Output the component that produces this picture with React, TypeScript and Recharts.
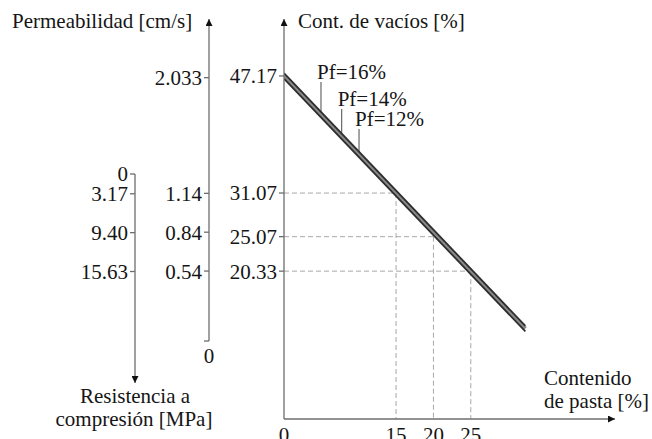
import React from 'react';
import { ComposedChart, Line, XAxis, YAxis, ReferenceLine } from 'recharts';

const FONT = 'Liberation Serif, DejaVu Serif, serif';
const TEXT = '#151515';
const AXIS = '#6e6e6e';
const FS = 21;

// Contenido de pasta [%] (x axis)
const pasteTickLabels = ['0', '15', '20', '25'];
// Cont. de vacíos [%] (main y axis)
const voidTickLabels = ['20.33', '25.07', '31.07', '47.17'];
// Permeabilidad [cm/s]
const permTickLabels = ['0', '0.54', '0.84', '1.14', '2.033'];
// Resistencia a compresión [MPa]
const strengthTickLabels = ['0', '3.17', '9.40', '15.63'];

// The three Pf lines (endpoints)
const pasteContent = [0, 32.3];
const pf16 = [47.55, 12.8];
const pf14 = [47.17, 12.42];
const pf12 = [46.79, 12.04];
const pfNames = ['Pf=16%', 'Pf=14%', 'Pf=12%'];

// Read-off guides
const guidePaste = [15, 20, 25];
const guideVoids = [31.07, 25.07, 20.33];

const toNums = (labels: string[]) => labels.map((l) => parseFloat(l));
const fmt = (labels: string[]) => (v: number) => {
  const f = labels.find((l) => parseFloat(l) === v);
  return f !== undefined ? f : String(v);
};

const tickStyle = { fontFamily: FONT, fontSize: FS, fill: TEXT };
const axisLineUp = { stroke: AXIS, strokeWidth: 1.3, markerStart: 'url(#arrowhead)' };
const axisLineEnd = { stroke: AXIS, strokeWidth: 1.3, markerEnd: 'url(#arrowhead)' };

const PermTick = (props: any) => {
  const { x, y, payload } = props;
  const label = fmt(permTickLabels)(payload.value);
  if (payload.value === 0) {
    return (
      <text x={x + 7} y={y + 22} textAnchor="middle" style={{ fontFamily: FONT }} fontSize={FS} fill={TEXT}>
        {label}
      </text>
    );
  }
  return (
    <text x={x} y={y} dy="0.355em" textAnchor="end" style={{ fontFamily: FONT }} fontSize={FS} fill={TEXT}>
      {label}
    </text>
  );
};

const lineAt = (arr: number[], x: number) =>
  arr[0] + ((arr[1] - arr[0]) * (x - pasteContent[0])) / (pasteContent[1] - pasteContent[0]);

export default function App() {
  const data = pasteContent.map((x, i) => ({ x, pf16: pf16[i], pf14: pf14[i], pf12: pf12[i] }));
  const leaders = [
    { name: pfNames[0], values: pf16, x: 4.95, top: 46.34 },
    { name: pfNames[1], values: pf14, x: 7.72, top: 42.63 },
    { name: pfNames[2], values: pf12, x: 10.04, top: 39.88 },
  ];

  const abs: React.CSSProperties = { position: 'absolute', left: 0, top: 0, fontFamily: FONT };

  return (
    <div style={{ position: 'absolute', left: 0, top: 0, width: 652, height: 439, background: '#fff', fontFamily: FONT }}>
      <svg width={0} height={0} style={{ position: 'absolute' }}>
        <defs>
          <marker
            id="arrowhead"
            viewBox="0 0 10 10"
            refX={10}
            refY={5}
            markerUnits="userSpaceOnUse"
            markerWidth={10}
            markerHeight={7}
            orient="auto-start-reverse"
          >
            <path d="M0,0 L10,5 L0,10 z" fill="#111" />
          </marker>
        </defs>
      </svg>

      {/* Resistencia a compresión axis */}
      <div style={abs}>
        <ComposedChart width={140} height={439} data={data} margin={{ top: 174, right: 0, bottom: 56, left: 0 }}>
          <XAxis dataKey="x" type="number" hide domain={[0, 1]} />
          <YAxis
            yAxisId="s"
            type="number"
            width={135}
            reversed
            domain={[0, 33.5]}
            allowDataOverflow
            ticks={toNums(strengthTickLabels)}
            tickFormatter={fmt(strengthTickLabels)}
            tickSize={5}
            tick={tickStyle}
            tickLine={{ stroke: AXIS, strokeWidth: 1.3 }}
            axisLine={axisLineEnd}
            interval={0}
          />
        </ComposedChart>
      </div>

      {/* Permeabilidad axis */}
      <div style={abs}>
        <ComposedChart width={215} height={439} data={data} margin={{ top: 19, right: 0, bottom: 98, left: 0 }}>
          <XAxis dataKey="x" type="number" hide domain={[0, 1]} />
          <YAxis
            yAxisId="p"
            type="number"
            width={209}
            domain={[0, 2.486]}
            allowDataOverflow
            ticks={toNums(permTickLabels)}
            tickSize={5}
            tick={PermTick}
            tickLine={{ stroke: AXIS, strokeWidth: 1.3 }}
            axisLine={axisLineUp}
            interval={0}
          />
        </ComposedChart>
      </div>

      {/* Main chart */}
      <div style={abs}>
        <ComposedChart width={652} height={439} data={data} margin={{ top: 19, right: 37, bottom: 0, left: 0 }}>
          <XAxis
            dataKey="x"
            type="number"
            domain={[0, 44.3]}
            allowDataOverflow
            ticks={toNums(pasteTickLabels)}
            tickFormatter={fmt(pasteTickLabels)}
            tickLine={false}
            tick={tickStyle}
            axisLine={axisLineEnd}
            height={20}
            interval={0}
          />
          <YAxis
            type="number"
            width={284}
            domain={[0, 55]}
            allowDataOverflow
            ticks={toNums(voidTickLabels)}
            tickFormatter={fmt(voidTickLabels)}
            tickSize={5}
            tick={tickStyle}
            tickLine={{ stroke: AXIS, strokeWidth: 1.3 }}
            axisLine={axisLineUp}
            interval={0}
          />
          {guidePaste.flatMap((gx, i) => [
            <ReferenceLine
              key={'h' + i}
              segment={[
                { x: 0, y: guideVoids[i] },
                { x: gx, y: guideVoids[i] },
              ]}
              stroke="#a9a9a9"
              strokeWidth={1}
              strokeDasharray="5 3"
              ifOverflow="visible"
            />,
            <ReferenceLine
              key={'v' + i}
              segment={[
                { x: gx, y: guideVoids[i] },
                { x: gx, y: 0 },
              ]}
              stroke="#a9a9a9"
              strokeWidth={1}
              strokeDasharray="5 3"
              ifOverflow="visible"
            />,
          ])}
          {leaders.map((l) => (
            <ReferenceLine
              key={l.name}
              segment={[
                { x: l.x, y: l.top },
                { x: l.x, y: lineAt(l.values, l.x) },
              ]}
              stroke="#5a5a5a"
              strokeWidth={1.1}
              ifOverflow="visible"
              label={{
                content: (p: any) => {
                  const vb = p.viewBox || {};
                  return (
                    <text x={vb.x - 4} y={vb.y - 3} style={{ fontFamily: FONT }} fontSize={FS} fill={TEXT}>
                      {l.name}
                    </text>
                  );
                },
              }}
            />
          ))}
          <Line type="linear" dataKey="pf14" name={pfNames[1]} stroke="#8a8a8a" strokeWidth={4} dot={false} activeDot={false} isAnimationActive={false} />
          <Line type="linear" dataKey="pf16" name={pfNames[0]} stroke="#2e2e2e" strokeWidth={1.8} dot={false} activeDot={false} isAnimationActive={false} />
          <Line type="linear" dataKey="pf12" name={pfNames[2]} stroke="#2e2e2e" strokeWidth={1.8} dot={false} activeDot={false} isAnimationActive={false} />
        </ComposedChart>
      </div>

      {/* Axis titles */}
      <svg width={652} height={439} style={{ ...abs, pointerEvents: 'none' }}>
        <g style={{ fontFamily: FONT }} fontSize={FS} fill={TEXT}>
          <text x={12} y={28}>Permeabilidad [cm/s]</text>
          <text x={298} y={28}>Cont. de vacíos [%]</text>
          <text x={544} y={385}>Contenido</text>
          <text x={544} y={408}>de pasta [%]</text>
          <text x={135} y={403} textAnchor="middle">Resistencia a</text>
          <text x={134} y={426} textAnchor="middle">compresión [MPa]</text>
        </g>
      </svg>
    </div>
  );
}
